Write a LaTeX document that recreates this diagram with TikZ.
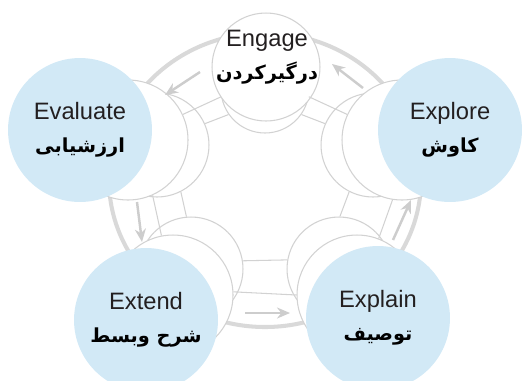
\documentclass[tikz,border=0pt]{standalone}
\usepackage{fontspec}
\setmainfont{Liberation Sans}
\newfontfamily\fafont[Script=Arabic]{DejaVu Sans}
\TeXXeTstate=1
\usetikzlibrary{arrows.meta}

\definecolor{DISCBLUE}{HTML}{D2E9F6}
\definecolor{RIMGRAY}{HTML}{D9D9D9}
\definecolor{WIREGRAY}{HTML}{D2D2D2}
\definecolor{ARRGRAY}{HTML}{CDCDCD}
\definecolor{TXTGRAY}{HTML}{231F20}

% Persian line, bold, right to left
\newcommand{\fa}[1]{{\fafont\bfseries\fontsize{11}{19}\selectfont\color{black}\beginR #1\endR}}

\begin{document}
\begin{tikzpicture}[x=0.02cm, y=-0.02cm,
  %% front discs -- pale blue, carry the labels
  fdisc/.style={
    circle, fill=DISCBLUE, minimum size=2.88cm, inner sep=0pt,
    align=center, text=TXTGRAY, font=\fontsize{13.5}{19}\selectfont
  },
  %% discs stacked behind -- white with a thin grey rim
  bdisc/.style={
    circle, draw=WIREGRAY, line width=0.6pt, fill=white, inner sep=0pt
  },
  lbl/.style={align=center, text=TXTGRAY, font=\fontsize{13.5}{19}\selectfont},
  rim/.style={RIMGRAY, line width=2.3pt},
  wire/.style={WIREGRAY, line width=0.6pt},
  arr/.style={-{Stealth[length=2.6mm,width=2.2mm]}, ARRGRAY, line width=1.4pt}
]
\useasboundingbox (0,0) rectangle (523,380);
\clip (0,0) rectangle (523,380);

%% ── outer rim ────────────────────────────────────────────────
\draw[rim] (265,180) ellipse [x radius=156, y radius=147];

%% ── back discs (farthest first) ──────────────────────────────
\node[bdisc, minimum size=2.08cm] (ev3) at (157,145) {};
\node[bdisc, minimum size=2.08cm] (xo3) at (373,145) {};
\node[bdisc, minimum size=2.08cm] (xd3) at (191,269) {};
\node[bdisc, minimum size=2.08cm] (xp3) at (339,269) {};

\node[bdisc, minimum size=2.4cm] (ev2) at (128,140) {};
\node[bdisc, minimum size=2.4cm] (xo2) at (402,140) {};
\node[bdisc, minimum size=2.4cm] (xd2) at (173,295) {};
\node[bdisc, minimum size=2.4cm] (xp2) at (357,295) {};

\node[bdisc, minimum size=1.76cm] (en2) at (265,89) {};
\node[bdisc, minimum size=2.16cm] (en1) at (266,67) {};
\node[lbl] (engage) at (267,57) {Engage\\\fa{درگیرکردن}};

%% ── wire frame between the stacks ────────────────────────────
\draw[wire] (ev2.25)   -- (en2.190);
\draw[wire] (ev3.24)   -- (en2.215);
\draw[wire] (xo2.155)  -- (en2.-10);
\draw[wire] (xo3.156)  -- (en2.-35);
\draw[wire] (ev2.-66)  -- (xd2.101);
\draw[wire] (ev3.-63)  -- (xd3.95);
\draw[wire] (xd3.9)    -- (xp3.170);
\draw[wire] (xd2.3)    -- (xp2.180);
\draw[wire] (xp3.89)   -- (xo3.-117);
\draw[wire] (xp2.69)   -- (xo2.-99);

%% ── flow arrows ──────────────────────────────────────────────
\coordinate (a1) at (200,72);  \coordinate (b1) at (165,95);
\coordinate (a2) at (363,88);  \coordinate (b2) at (332,64);
\coordinate (a3) at (137,202); \coordinate (b3) at (142,242);
\coordinate (a4) at (393,240); \coordinate (b4) at (411,200);
\coordinate (a5) at (245,313); \coordinate (b5) at (290,313);
\foreach \i in {1,...,5}
  \draw[arr] (a\i) -- (b\i);

%% ── front discs ──────────────────────────────────────────────
\node[fdisc] (evaluate) at (80,130)  {Evaluate\\\fa{ارزشیابی}};
\node[fdisc] (explore)  at (450,130) {Explore\\\fa{کاوش}};
\node[fdisc] (extend)   at (146,320) {Extend\\\fa{شرح وبسط}};
\node[fdisc] (explain)  at (378,318) {Explain\\\fa{توصیف}};

\end{tikzpicture}
\end{document}
